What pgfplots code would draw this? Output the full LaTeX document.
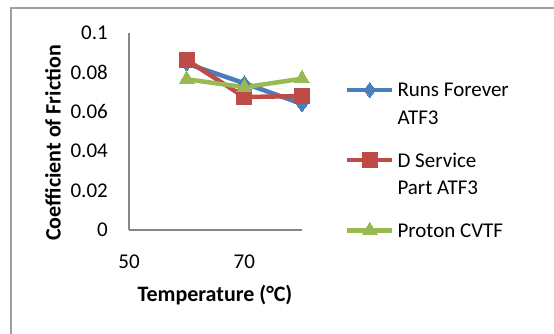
\documentclass[border=0pt]{standalone}
\usepackage{pgfplots}
\pgfplotsset{compat=1.18}
\usepackage{fontspec}
\setmainfont{Carlito}
\definecolor{cblue}{HTML}{4A7EBB}
\definecolor{cred}{HTML}{BE4B48}
\definecolor{cgreen}{HTML}{98B954}
\definecolor{cgrey}{HTML}{868686}
\definecolor{cframe}{HTML}{A0A0A0}
\newcommand{\fs}{\fontsize{21}{28}\selectfont}
\newcommand{\strA}{\rule[-5pt]{0pt}{29.5pt}}
\newcommand{\strB}{\rule[-5pt]{0pt}{44.5pt}}
\begin{document}
\fs
\begin{tikzpicture}[x=1pt,y=1pt]
\path[use as bounding box] (0,0) rectangle (554,333);
\begin{scope}
\clip (0,0) rectangle (554,333);
\draw[color=cframe, line width=1.5pt] (11,-20) -- (11,325) -- (600,325);
\end{scope}
\begin{axis}[
  at={(129pt,103pt)}, anchor=south west,
  scale only axis, width=173pt, height=197pt,
  xmin=50, xmax=80, ymin=0, ymax=0.1,
  separate axis lines,
  axis x line*=bottom, axis y line*=left,
  axis line style={draw=cgrey, line width=1.5pt, -},
  xtick={50,70}, ytick={0,0.02,0.04,0.06,0.08,0.1},
  major tick length=0pt, tick style={draw=none},
  scaled y ticks=false,
  tick label style={font=\fs},
  y tick label style={/pgf/number format/fixed, /pgf/number format/precision=2, xshift=-14pt},
  x tick label style={yshift=-18pt},
  /pgf/number format/assume math mode=true,
  xlabel={\textbf{Temperature (°C)}},
  ylabel={\textbf{Coefficient of Friction}},
  every axis x label/.style={at={(rel axis cs:0.497,-0.33)}, anchor=center, font=\fontsize{22}{28}\selectfont\bfseries},
  every axis y label/.style={at={(rel axis cs:-0.439,0.442)}, rotate=90, anchor=center, font=\fontsize{22}{28}\selectfont\bfseries},
  clip=false,
  legend image code/.code={\draw[mark repeat=2, mark phase=2] plot coordinates {(0pt,7pt) (22.5pt,7pt) (45pt,7pt)};},
  legend style={at={(rel axis cs:1.2486,0.80)}, anchor=north west, draw=none, fill=none,
    inner sep=0pt, outer sep=0pt,
    row sep=0pt, column sep=3pt, font=\fs,
    nodes={inner sep=0pt, anchor=base west}},
  legend cell align=left,
]
\addplot[color=cblue, line width=4.5pt, line join=round, mark=diamond*, mark size=7.5pt, mark options={fill=cblue, draw=cblue, line width=0pt}]
  coordinates {(60,0.0845) (70,0.0745) (80,0.064)};
\addlegendentry{\strA Runs Forever}
\addlegendimage{empty legend}
\addlegendentry{\strA ATF3}
\addplot[color=cred, line width=4.5pt, line join=round, mark=square*, mark size=7.5pt, mark options={fill=cred, draw=cred, line width=0pt}]
  coordinates {(60,0.0863) (70,0.0675) (80,0.068)};
\addlegendentry{\strB D Service}
\addlegendimage{empty legend}
\addlegendentry{\strA Part ATF3}
\addplot[color=cgreen, line width=4.5pt, line join=round, mark=triangle*, mark size=8.5pt, mark options={fill=cgreen, draw=cgreen, line width=0pt}]
  coordinates {(60,0.0765) (70,0.0725) (80,0.0768)};
\addlegendentry{\strB Proton CVTF}
\end{axis}
\end{tikzpicture}
\end{document}
